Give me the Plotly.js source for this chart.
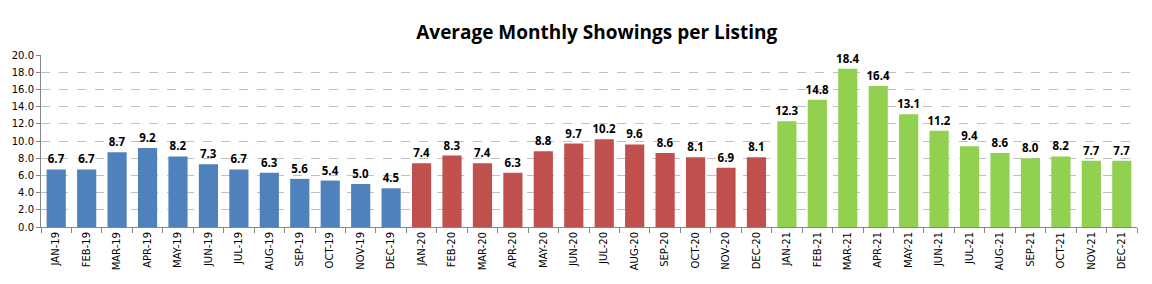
<!DOCTYPE html>
<html>
<head>
<meta charset="utf-8">
<script src="https://cdn.plot.ly/plotly-3.0.1.min.js"></script>
<style>
  html, body { margin: 0; padding: 0; background: #fff; }
  #chart { width: 1152px; height: 284px; }
</style>
</head>
<body>
<div id="chart"></div>
<script>
// Monthly average showings per listing, one array per year
const months = ["JAN", "FEB", "MAR", "APR", "MAY", "JUN", "JUL", "AUG", "SEP", "OCT", "NOV", "DEC"];
const values2019 = [6.7, 6.7, 8.7, 9.2, 8.2, 7.3, 6.7, 6.3, 5.6, 5.4, 5.0, 4.5];
const values2020 = [7.4, 8.3, 7.4, 6.3, 8.8, 9.7, 10.2, 9.6, 8.6, 8.1, 6.9, 8.1];
const values2021 = [12.3, 14.8, 18.4, 16.4, 13.1, 11.2, 9.4, 8.6, 8.0, 8.2, 7.7, 7.7];
const years = ["19", "20", "21"];
const yearColors = ["#4F81BD", "#C0504D", "#92D050"];

const seriesByYear = [values2019, values2020, values2021];
const allCategories = [];
years.forEach(y => months.forEach(m => allCategories.push(m + "-" + y)));

// One overlay trace per year so each year keeps its own colour on a shared category axis
const traces = years.map((y, i) => ({
  type: "bar",
  x: months.map(m => m + "-" + y),
  y: seriesByYear[i],
  marker: { color: yearColors[i] },
  text: seriesByYear[i].map(v => v.toFixed(1)),
  textposition: "outside",
  constraintext: "none",
  cliponaxis: false,
  textfont: { family: "Open Sans, sans-serif", size: 11.5, color: "#000", weight: "bold" },
  hoverinfo: "x+y",
  showlegend: false
}));

const layout = {
  width: 1152,
  height: 284,
  margin: { l: 41, r: 15, t: 55, b: 57 },
  paper_bgcolor: "#fff",
  plot_bgcolor: "#fff",
  barmode: "overlay",
  bargap: 0.37,
  title: {
    text: "<b>Average Monthly Showings per Listing</b>",
    font: { family: "Open Sans, sans-serif", size: 19, color: "#000" },
    x: 0.518, xanchor: "center",
    y: 0.887, yanchor: "middle"
  },
  xaxis: {
    type: "category",
    categoryorder: "array",
    categoryarray: allCategories,
    tickangle: -90,
    tickson: "boundaries",
    ticks: "outside",
    ticklen: 5,
    tickcolor: "#868686",
    showline: true,
    linecolor: "#868686",
    linewidth: 1,
    showgrid: false,
    tickfont: { family: "DejaVu Sans, sans-serif", size: 10, color: "#000" },
    fixedrange: true
  },
  yaxis: {
    range: [0, 20],
    dtick: 2,
    tickformat: ".1f",
    ticks: "outside",
    ticklen: 4,
    tickcolor: "#868686",
    showline: true,
    linecolor: "#868686",
    linewidth: 1,
    gridcolor: "#BFBFBF",
    griddash: "dash",
    gridwidth: 1,
    zeroline: false,
    tickfont: { family: "DejaVu Sans, sans-serif", size: 10, color: "#000" },
    fixedrange: true
  }
};

Plotly.newPlot("chart", traces, layout, { displayModeBar: false, staticPlot: true });
</script>
</body>
</html>
